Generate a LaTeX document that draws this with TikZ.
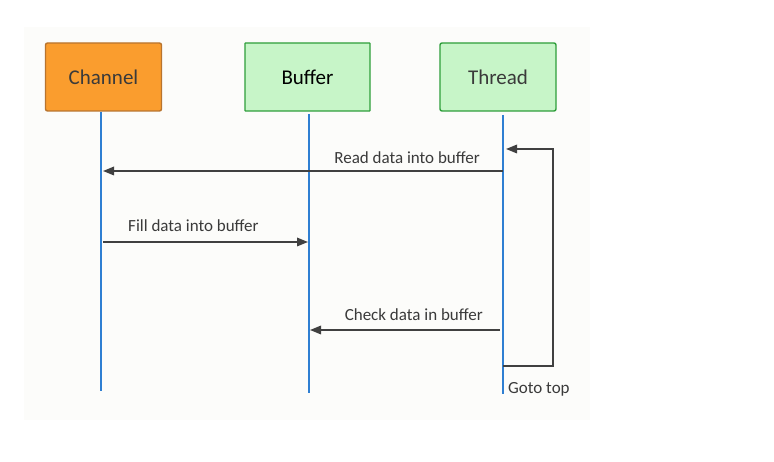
\documentclass[tikz,border=0pt]{standalone}
\usepackage{fontspec}
\setmainfont{Carlito}
\usetikzlibrary{arrows.meta}
\definecolor{bgc}{HTML}{FCFCFA}
\definecolor{orfill}{HTML}{FA9D2E}
\definecolor{ordraw}{HTML}{B8742E}
\definecolor{grfill}{HTML}{C7F5C8}
\definecolor{grdraw}{HTML}{2E9E3A}
\definecolor{lifec}{HTML}{2F7FD2}
\definecolor{msgc}{HTML}{404040}
\definecolor{txtc}{HTML}{3A3A3A}
\tikzset{
  x=1pt, y=-1pt,
  actor/.style={draw, line width=1.4pt, rounded corners=2pt, minimum width=116pt, minimum height=68pt, inner sep=0pt, font=\fontsize{21}{24}\selectfont, text=txtc},
  chanbox/.style={actor, fill=orfill, draw=ordraw},
  grbox/.style={actor, fill=grfill, draw=grdraw},
  life/.style={draw=lifec, line width=1.5pt},
  msg/.style={draw=msgc, line width=1.7pt, -{Triangle[length=11pt,width=8.5pt]}},
  lbl/.style={font=\fontsize{17}{20}\selectfont, text=txtc, inner sep=0pt},
}
\begin{document}
\begin{tikzpicture}
\useasboundingbox (0,0) rectangle (774,462);
\fill[white] (0,0) rectangle (774,462);
\fill[bgc] (24,27) rectangle (590,420);
% actors
\node[chanbox] (ch) at (103.5,77) {Channel};
\node[grbox, minimum width=125pt, rounded corners=0.5pt, text=black] (bu) at (307.5,77) {Buffer};
\node[grbox] (th) at (498,77) {Thread};
% lifeline ends
\coordinate (chT) at (101,112);
\coordinate (chB) at (101,391);
\coordinate (buT) at (309,114);
\coordinate (buB) at (309,393);
\coordinate (thT) at (503,115);
\coordinate (thB) at (503,394);
\draw[life] (chT) -- (chB);
\draw[life] (buT) -- (buB);
\draw[life] (thT) -- (thB);
% messages
\coordinate (r1) at (503,171);
\coordinate (r2) at (103,171);
\draw[msg] (r1) -- (r2);
\node[lbl, anchor=base east] (rl) at (480,163.5) {Read data into buffer};
\coordinate (f1) at (103,242);
\coordinate (f2) at (308,242);
\draw[msg] (f1) -- (f2);
\node[lbl, anchor=base west] (fl) at (128,232) {Fill data into buffer};
\coordinate (c1) at (500,330);
\coordinate (c2) at (310,330);
\draw[msg] (c1) -- (c2);
\node[lbl, anchor=base east] (cl) at (483,321) {Check data in buffer};
% loop
\coordinate (l1) at (503,366);
\coordinate (l2) at (553,366);
\coordinate (l3) at (553,149);
\coordinate (l4) at (506,149);
\draw[msg] (l1) -- (l2) -- (l3) -- (l4);
\node[lbl, anchor=base west] (gl) at (508,393) {Goto top};
\end{tikzpicture}
\end{document}
